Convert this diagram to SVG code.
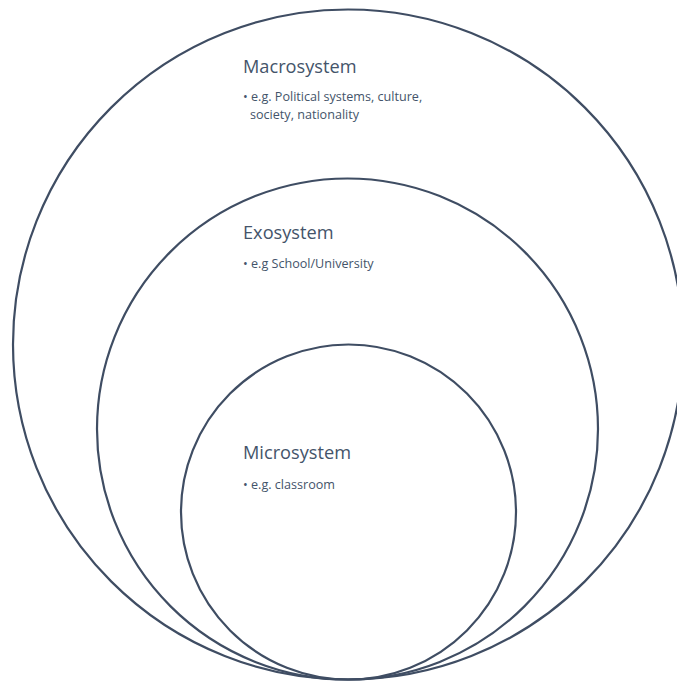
<svg xmlns="http://www.w3.org/2000/svg" width="677" height="682" viewBox="0 0 677 682">
<style>
.ring{fill:none;stroke:#3f4d63;stroke-width:2.2}
.h{font-family:"Open Sans",Lato,sans-serif;font-size:18.2px;fill:#44546a}
.b{font-family:"Open Sans",Lato,sans-serif;font-size:12.6px;fill:#44546a}
</style>
<rect width="677" height="682" fill="#fff"/>
<g id="macrosystem">
<circle class="ring" cx="348" cy="344.5" r="335"/>
<text class="h" x="243" y="73">Macrosystem</text>
<text class="b" x="243" y="101">• e.g. Political systems, culture,</text>
<text class="b" x="250" y="119">society, nationality</text>
</g>
<g id="exosystem">
<circle class="ring" cx="347.5" cy="429" r="250.5"/>
<text class="h" x="243" y="239">Exosystem</text>
<text class="b" x="243" y="268">• e.g School/University</text>
</g>
<g id="microsystem">
<circle class="ring" cx="348.5" cy="512" r="167.5"/>
<text class="h" x="243" y="459">Microsystem</text>
<text class="b" x="243" y="489">• e.g. classroom</text>
</g>
<g id="connectors"/>
</svg>
